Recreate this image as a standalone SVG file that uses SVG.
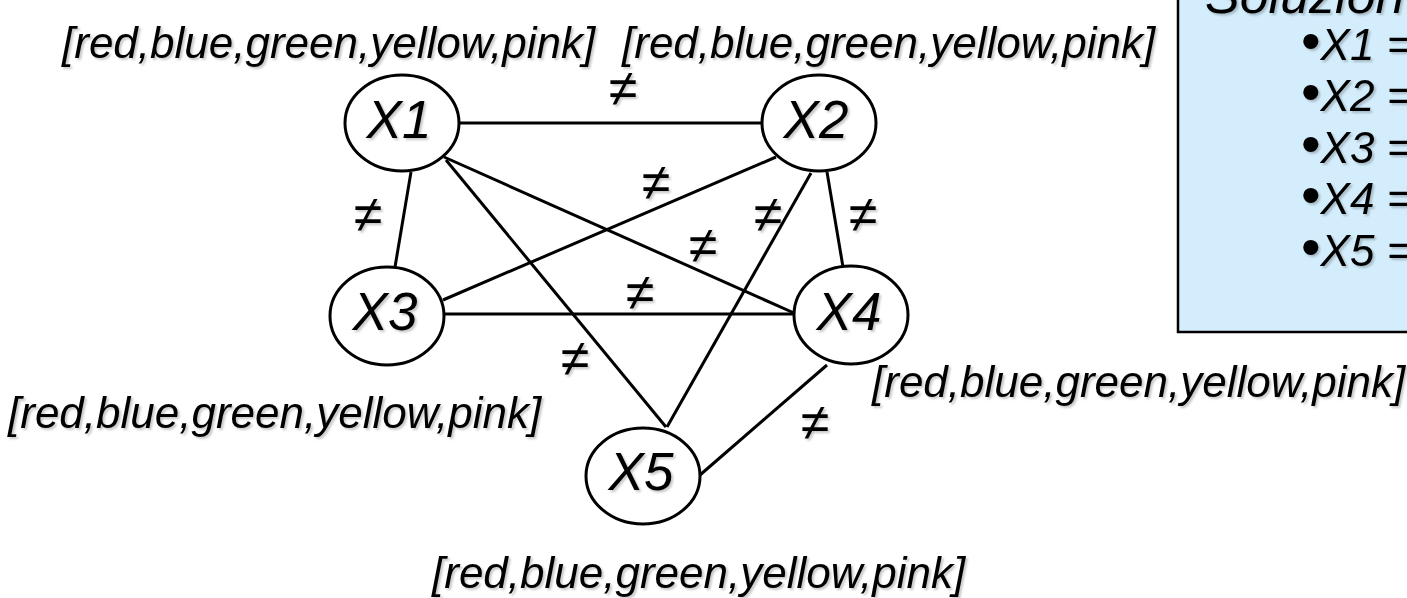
<svg xmlns="http://www.w3.org/2000/svg" width="1407" height="598" viewBox="0 0 1407 598">
  <defs>
    <filter id="shadow" x="-10%" y="-20%" width="130%" height="150%">
      <feDropShadow dx="2" dy="2" stdDeviation="1" flood-color="#000" flood-opacity="0.22"/>
    </filter>
    <style>
      text { font-family: "Liberation Sans", Arial, sans-serif; font-style: italic; fill: #000; filter: url(#shadow); }
      .node ellipse { fill: #fff; stroke: #000; stroke-width: 3; }
      .node text { font-size: 53px; text-anchor: middle; }
      .edge { stroke: #000; stroke-width: 3; fill: none; }
      .neq { font-size: 52px; text-anchor: middle; }
      .dom { font-size: 44px; }
      .sol { font-size: 44px; }
      .bul { font-size: 56px; font-style: normal; }
      .box { fill: #D4EDFC; stroke: #000; stroke-width: 2.5; }
    </style>
  </defs>

  <rect width="1407" height="598" fill="#fff"/>

  <!-- solution panel (runs past the right and top edges) -->
  <g id="solutions">
    <rect class="box" x="1178" y="-20" width="260" height="352"/>
    <text x="1205" y="13" style="font-size:52px">Soluzion</text>
    <text class="sol" x="1301" y="60"><tspan class="bul">•</tspan>X1 =</text>
    <text class="sol" x="1301" y="111"><tspan class="bul">•</tspan>X2 =</text>
    <text class="sol" x="1301" y="163"><tspan class="bul">•</tspan>X3 =</text>
    <text class="sol" x="1301" y="214"><tspan class="bul">•</tspan>X4 =</text>
    <text class="sol" x="1301" y="266"><tspan class="bul">•</tspan>X5 =</text>
  </g>

  <!-- constraint arcs -->
  <g id="connectors">
    <line class="edge" x1="459" y1="123" x2="762" y2="123"/>
    <line class="edge" x1="411" y1="172" x2="395" y2="267"/>
    <line class="edge" x1="444" y1="157" x2="794" y2="313"/>
    <line class="edge" x1="446" y1="160" x2="666" y2="427"/>
    <line class="edge" x1="776" y1="157" x2="443" y2="300"/>
    <line class="edge" x1="827" y1="172" x2="843" y2="267"/>
    <line class="edge" x1="811" y1="173" x2="667" y2="427"/>
    <line class="edge" x1="444" y1="314" x2="794" y2="314"/>
    <line class="edge" x1="827" y1="365" x2="700" y2="475"/>
  </g>

  <!-- inequality marks on the arcs -->
  <g id="edge-labels">
    <text class="neq" x="623" y="106">≠</text>
    <text class="neq" x="368" y="232">≠</text>
    <text class="neq" x="656" y="200">≠</text>
    <text class="neq" x="768" y="232">≠</text>
    <text class="neq" x="863" y="232">≠</text>
    <text class="neq" x="703" y="263">≠</text>
    <text class="neq" x="640" y="310">≠</text>
    <text class="neq" x="575" y="376">≠</text>
    <text class="neq" x="815" y="440">≠</text>
  </g>

  <!-- variables -->
  <g id="X1" class="node">
    <ellipse cx="402" cy="123" rx="57" ry="48"/>
    <text x="399" y="138">X1</text>
  </g>
  <g id="X2" class="node">
    <ellipse cx="819" cy="123" rx="57" ry="48"/>
    <text x="816" y="138">X2</text>
  </g>
  <g id="X3" class="node">
    <ellipse cx="387" cy="316" rx="57" ry="49"/>
    <text x="385" y="330">X3</text>
  </g>
  <g id="X4" class="node">
    <ellipse cx="851" cy="315" rx="57" ry="49"/>
    <text x="849" y="330">X4</text>
  </g>
  <g id="X5" class="node">
    <ellipse cx="643" cy="476" rx="57" ry="48"/>
    <text x="641" y="490">X5</text>
  </g>

  <!-- domains -->
  <g id="domains">
    <text class="dom" x="62" y="58">[red,blue,green,yellow,pink]</text>
    <text class="dom" x="622" y="58">[red,blue,green,yellow,pink]</text>
    <text class="dom" x="8" y="428">[red,blue,green,yellow,pink]</text>
    <text class="dom" x="872" y="397">[red,blue,green,yellow,pink]</text>
    <text class="dom" x="432" y="588">[red,blue,green,yellow,pink]</text>
  </g>
</svg>
